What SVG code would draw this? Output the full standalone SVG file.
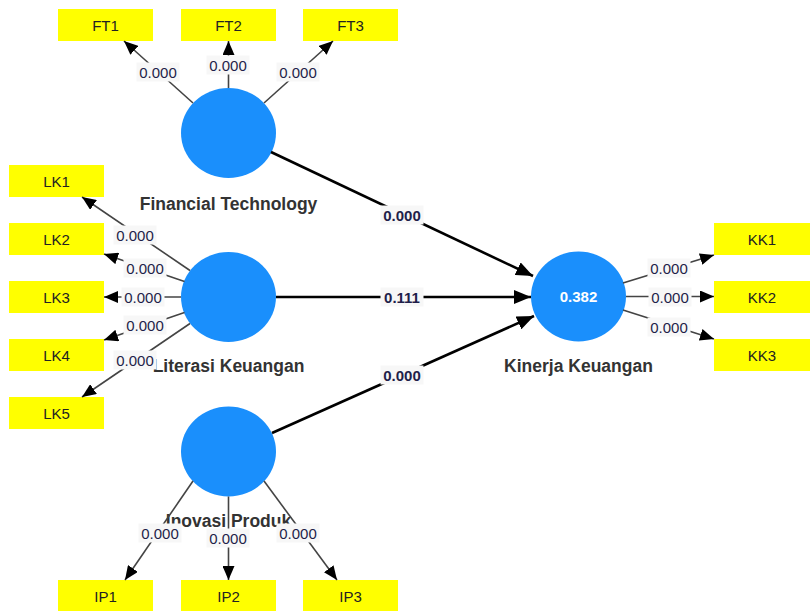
<svg xmlns="http://www.w3.org/2000/svg" width="811" height="611" viewBox="0 0 811 611">
<defs>
<style>
.bg{fill:#ffffff}
.lv{fill:#1a8ffc}
.box{fill:#ffff00}
.boxt{font-family:"Liberation Sans",Arial,sans-serif;font-size:15px;fill:#222;text-anchor:middle}
.name{font-family:"Liberation Sans",Arial,sans-serif;font-size:17.5px;font-weight:bold;fill:#333;text-anchor:middle}
.r2{font-family:"Liberation Sans",Arial,sans-serif;font-size:15px;font-weight:bold;fill:#ffffff;text-anchor:middle}
.ol{stroke:#444;stroke-width:1.6;fill:none;marker-end:url(#ah)}
.sl{stroke:#000;stroke-width:2.6;fill:none;marker-end:url(#ahb)}
.lb{fill:#f7f7f7}
.lt{font-family:"Liberation Sans",Arial,sans-serif;font-size:15px;fill:#1f1f4a;text-anchor:middle}
.lts{font-family:"Liberation Sans",Arial,sans-serif;font-size:15px;font-weight:bold;fill:#1f1f4a;text-anchor:middle}
</style>
<marker id="ah" markerUnits="userSpaceOnUse" markerWidth="14" markerHeight="12" refX="14" refY="6" orient="auto"><path d="M0,0 L14,6 L0,12 z" fill="#000"/></marker>
<marker id="ahb" markerUnits="userSpaceOnUse" markerWidth="17" markerHeight="14" refX="17" refY="7" orient="auto"><path d="M0,0 L17,7 L0,14 z" fill="#000"/></marker>
</defs>
<rect class="bg" x="0" y="0" width="811" height="611"/>

<g id="FT">
<ellipse class="lv" cx="228.5" cy="133" rx="47.5" ry="45"/>
<text class="name" x="228.5" y="210">Financial Technology</text>
</g>
<g id="LK">
<ellipse class="lv" cx="228.5" cy="297" rx="47.5" ry="45"/>
<text class="name" x="228.5" y="372">Literasi Keuangan</text>
</g>
<g id="IP">
<ellipse class="lv" cx="228.5" cy="451.5" rx="47.5" ry="45"/>
<text class="name" x="228.5" y="527">Inovasi Produk</text>
</g>
<g id="KK">
<ellipse class="lv" cx="578.5" cy="296.5" rx="47.5" ry="45"/>
<text class="r2" x="578.5" y="302">0.382</text>
<text class="name" x="578.5" y="372">Kinerja Keuangan</text>
</g>

<g id="FT1"><rect class="box" x="58" y="9" width="95" height="32"/><text class="boxt" x="105.5" y="30.5">FT1</text></g>
<g id="FT2"><rect class="box" x="181" y="9" width="95" height="32"/><text class="boxt" x="228.5" y="30.5">FT2</text></g>
<g id="FT3"><rect class="box" x="303" y="9" width="95" height="32"/><text class="boxt" x="350.5" y="30.5">FT3</text></g>
<g id="LK1"><rect class="box" x="9" y="165" width="95" height="32"/><text class="boxt" x="56.5" y="186.5">LK1</text></g>
<g id="LK2"><rect class="box" x="9" y="223" width="95" height="32"/><text class="boxt" x="56.5" y="244.5">LK2</text></g>
<g id="LK3"><rect class="box" x="9" y="281" width="95" height="32"/><text class="boxt" x="56.5" y="302.5">LK3</text></g>
<g id="LK4"><rect class="box" x="9" y="339" width="95" height="32"/><text class="boxt" x="56.5" y="360.5">LK4</text></g>
<g id="LK5"><rect class="box" x="9" y="397" width="95" height="32"/><text class="boxt" x="56.5" y="418.5">LK5</text></g>
<g id="IP1"><rect class="box" x="58" y="580" width="95" height="32"/><text class="boxt" x="105.5" y="601.5">IP1</text></g>
<g id="IP2"><rect class="box" x="181" y="580" width="95" height="32"/><text class="boxt" x="228.5" y="601.5">IP2</text></g>
<g id="IP3"><rect class="box" x="303" y="580" width="95" height="32"/><text class="boxt" x="350.5" y="601.5">IP3</text></g>
<g id="KK1"><rect class="box" x="714" y="223" width="96" height="32"/><text class="boxt" x="762" y="244.5">KK1</text></g>
<g id="KK2"><rect class="box" x="714" y="281" width="96" height="32"/><text class="boxt" x="762" y="302.5">KK2</text></g>
<g id="KK3"><rect class="box" x="714" y="339" width="96" height="32"/><text class="boxt" x="762" y="360.5">KK3</text></g>

<g id="connectors">
<line class="ol" x1="193" y1="103" x2="124" y2="41"/>
<line class="ol" x1="228.5" y1="88" x2="228.5" y2="41"/>
<line class="ol" x1="264" y1="103" x2="333" y2="41"/>
<line class="ol" x1="190" y1="270.5" x2="82" y2="197"/>
<line class="ol" x1="184.5" y1="281.5" x2="104" y2="254"/>
<line class="ol" x1="181" y1="297" x2="104" y2="297"/>
<line class="ol" x1="184.5" y1="312.5" x2="104" y2="340"/>
<line class="ol" x1="190" y1="323.5" x2="82" y2="397"/>
<line class="ol" x1="193" y1="481" x2="125" y2="580"/>
<line class="ol" x1="228.5" y1="496.5" x2="228.5" y2="580"/>
<line class="ol" x1="264" y1="481" x2="337" y2="580"/>
<line class="ol" x1="623" y1="283" x2="714" y2="255"/>
<line class="ol" x1="626" y1="296.5" x2="714" y2="296.5"/>
<line class="ol" x1="623" y1="310" x2="714" y2="339"/>
<line class="sl" x1="271" y1="152" x2="533" y2="276"/>
<line class="sl" x1="276" y1="297" x2="531" y2="297"/>
<line class="sl" x1="272" y1="433" x2="534" y2="316"/>

<rect class="lb" x="136.5" y="62.5" width="43" height="19"/><text class="lt" x="158" y="77.5">0.000</text>
<rect class="lb" x="206.5" y="55.5" width="43" height="19"/><text class="lt" x="228" y="70.5">0.000</text>
<rect class="lb" x="276.5" y="62.5" width="43" height="19"/><text class="lt" x="298" y="77.5">0.000</text>
<rect class="lb" x="113.5" y="225.5" width="43" height="19"/><text class="lt" x="135" y="240.5">0.000</text>
<rect class="lb" x="123.5" y="258.5" width="43" height="19"/><text class="lt" x="145" y="273.5">0.000</text>
<rect class="lb" x="121.5" y="287.5" width="43" height="19"/><text class="lt" x="143" y="302.5">0.000</text>
<rect class="lb" x="123.5" y="315.5" width="43" height="19"/><text class="lt" x="145" y="330.5">0.000</text>
<rect class="lb" x="113.5" y="350.5" width="43" height="19"/><text class="lt" x="135" y="365.5">0.000</text>
<rect class="lb" x="138.5" y="523.5" width="43" height="19"/><text class="lt" x="160" y="538.5">0.000</text>
<rect class="lb" x="206.5" y="528.5" width="43" height="19"/><text class="lt" x="228" y="543.5">0.000</text>
<rect class="lb" x="276.5" y="523.5" width="43" height="19"/><text class="lt" x="298" y="538.5">0.000</text>
<rect class="lb" x="647.5" y="258.5" width="43" height="19"/><text class="lt" x="669" y="273.5">0.000</text>
<rect class="lb" x="648.5" y="287.5" width="43" height="19"/><text class="lt" x="670" y="302.5">0.000</text>
<rect class="lb" x="647.5" y="317.5" width="43" height="19"/><text class="lt" x="669" y="332.5">0.000</text>
<rect class="lb" x="380.5" y="205.5" width="43" height="19"/><text class="lts" x="402" y="220.5">0.000</text>
<rect class="lb" x="380.5" y="287.5" width="43" height="19"/><text class="lts" x="402" y="302.5">0.111</text>
<rect class="lb" x="380.5" y="365.5" width="43" height="19"/><text class="lts" x="402" y="380.5">0.000</text>
</g>
</svg>
